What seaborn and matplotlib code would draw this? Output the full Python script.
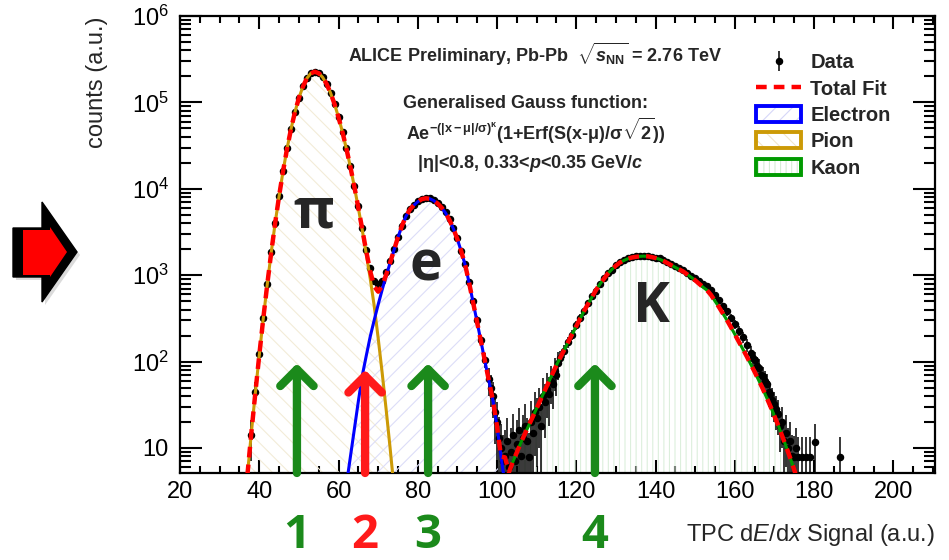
import numpy as np
import pandas as pd
import matplotlib
matplotlib.use("Agg")
import matplotlib.pyplot as plt
import matplotlib.ticker as mticker
import seaborn as sns
from matplotlib.patches import Patch, Polygon
from matplotlib.lines import Line2D
from matplotlib.legend_handler import HandlerTuple

# fit components (counts vs TPC dE/dx)
pion_x = list(range(37, 75))
pion_y = [4.84, 15.0, 43.2, 119, 313, 774, 1810, 3990, 8240, 16000, 29000, 49100,
          77300, 112700, 152000, 189700, 216800, 226500, 217800, 195000, 163000,
          128200, 95300, 67100, 45100, 28900, 17800, 10500, 5980, 3300, 1760, 910,
          441, 187, 74.6, 28.2, 10.1, 3.44]

electron_x = list(range(62, 103))
electron_y = [3.80, 7.94, 16.6, 34.7, 69.2, 117, 195, 302, 457, 676, 977, 1380,
              1950, 2750, 3720, 4790, 5750, 6460, 7080, 7590, 7760, 7670, 7300,
              6750, 6050, 5250, 4350, 3430, 2600, 1860, 1290, 794, 473, 282, 166,
              97.7, 58.2, 34.7, 17.8, 7.94, 3.80]

kaon_x = list(range(102, 177))
kaon_y = [3.98, 5.25, 6.92, 8.91, 11.5, 14.5, 18.2, 22.9, 28.8, 36.3, 45.7, 57.5,
          72.4, 91.2, 112, 138, 170, 209, 257, 316, 389, 468, 562, 676, 794, 912,
          1050, 1170, 1290, 1400, 1480, 1550, 1600, 1630, 1650, 1660, 1650, 1620,
          1580, 1530, 1460, 1380, 1300, 1230, 1160, 1100, 1020, 944, 871, 794, 724,
          668, 589, 501, 427, 359, 302, 251, 207, 170, 140, 115, 93.3, 75.9, 61.0,
          49.0, 38.5, 30.2, 23.4, 18.0, 13.6, 10.2, 7.59, 5.56, 3.98]

# measured points
data_x = [38, 39, 40, 41, 42, 43, 44, 45, 46, 47, 48, 49, 50, 51, 52, 53, 54, 55,
          56, 57, 58, 59, 60, 61, 62, 63, 64, 65, 66, 67, 68, 69, 70, 71, 72, 73,
          74, 75, 76, 77, 78, 79, 80, 81, 82, 83, 84, 85, 86, 87, 88, 89, 90, 91,
          92, 93, 94, 95, 96, 97,
          98, 98.5, 99, 99.5, 100, 100.5, 101, 101.5, 102, 102.5, 103, 103.5, 104,
          104.5, 105, 105.5, 106, 106.5, 107, 107.5, 108, 108.5, 109, 109.5, 110,
          110.5, 111, 111.5, 112, 112.5, 113, 113.5, 114, 114.5, 115, 115.5,
          116, 117, 118, 119, 120, 121, 122, 123, 124, 125, 126, 127, 128, 129,
          130, 131, 132, 133, 134, 135, 136, 137, 138, 139, 140, 141, 142, 143,
          144, 145, 146, 147, 148, 149, 150, 151, 152, 153, 154, 155, 156, 157,
          158, 159, 160, 161, 162, 163,
          164, 164.5, 165, 165.5, 166, 166.5, 167, 167.5, 168, 168.5, 169, 169.5,
          170, 170.5, 171, 171.5, 172, 172.5, 173, 173.5, 174, 174.5, 175, 175.5,
          176, 177, 178, 179, 180.3, 186.6]
data_y = [14, 45, 122, 320, 790, 1830, 4050, 8300, 16200, 29500, 49800, 78000,
          113000, 153000, 190000, 218000, 227000, 218000, 196000, 164000, 129000,
          96500, 68000, 46000, 29500, 18300, 10900, 6300, 3550, 1960, 1200, 860,
          790, 850, 1080, 1440, 2000, 2780, 3750, 4830, 5800, 6550, 7150, 7700,
          7900, 7800, 7400, 6850, 6150, 5350, 4430, 3500, 2680, 1920, 1340, 830,
          500, 300, 178, 104,
          62, 50, 40, 26, 20, 13, 10, 7, 8, 12, 6, 9, 14, 7, 11, 16, 8, 13, 18, 12,
          7.9, 20, 15, 26, 22, 30, 18, 40, 34, 48, 42, 60, 55, 78, 70, 95,
          110, 132, 168, 205, 262, 320, 380, 470, 570, 660, 800, 920, 1060, 1160,
          1300, 1420, 1490, 1560, 1610, 1650, 1660, 1680, 1670, 1640, 1600, 1560,
          1490, 1420, 1340, 1270, 1200, 1140, 1070, 990, 930, 860, 790, 740, 670,
          590, 520, 440, 380, 320, 270, 225, 190, 155,
          125, 110, 105, 90, 85, 70, 68, 60, 55, 45, 42, 36, 32, 28, 25, 18, 20, 12,
          15, 10, 12, 8, 7.9, 10,
          7.9, 7.9, 7.9, 7.9, 11.8, 7.9]
data_err = [7, 13, 22, 36, 56, 86, 127, 182, 255, 344, 446, 559, 672, 782, 872,
            934, 953, 934, 885, 810, 718, 621, 522, 429, 344, 271, 209, 159, 119,
            89, 69, 59, 56, 58, 66, 76, 89, 105, 122, 139, 152, 162, 169, 175,
            178, 177, 172, 166, 157, 146, 133, 118, 104, 88, 73, 58, 45, 35, 27, 20,
            22, 20, 18, 15, 14, 10, 9, 7, 8, 10, 6, 8, 11, 7, 10, 13, 7, 11, 14, 10,
            7, 15, 12, 18, 16, 20, 14, 24, 21, 26, 24, 28, 27, 32, 30, 34,
            21, 23, 26, 29, 32, 36, 39, 43, 48, 51, 57, 61, 65, 68, 72, 75, 77, 79,
            80, 81, 81, 82, 82, 81, 80, 79, 77, 75, 73, 71, 69, 68, 65, 63, 61, 59,
            56, 54, 52, 49, 46, 42, 39, 36, 33, 30, 28, 25,
            25, 24, 23, 22, 21, 19, 18, 17, 16, 15, 14, 13, 12, 12, 11, 9, 10, 8, 9,
            7, 8, 6, 6, 7,
            5.6, 5.6, 5.6, 5.6, 6.9, 5.6]

arrow_x = [49.5, 66.7, 82.6, 124.7]
arrow_top = [95, 80, 95, 95]
arrow_labels = ["1", "2", "3", "4"]
arrow_colors = ["#1b8a1b", "#ff1a1a", "#1b8a1b", "#1b8a1b"]

x_ticks = [20, 40, 60, 80, 100, 120, 140, 160, 180, 200]
y_ticks = [10, 1e2, 1e3, 1e4, 1e5, 1e6]
y_tick_labels = ["10", "$10^{2}$", "$10^{3}$", "$10^{4}$", "$10^{5}$", "$10^{6}$"]

sns.set_theme(style="ticks")
plt.rcParams["font.family"] = ["Liberation Sans", "DejaVu Sans"]
plt.rcParams.update({
    "mathtext.fontset": "custom",
    "mathtext.rm": "Liberation Sans",
    "mathtext.it": "Liberation Sans:italic",
    "mathtext.bf": "Liberation Sans:bold",
    "mathtext.bfit": "Liberation Sans:italic:bold",
    "mathtext.default": "regular",
    "hatch.linewidth": 0.8,
})

pion = pd.DataFrame({"x": pion_x, "y": pion_y})
electron = pd.DataFrame({"x": electron_x, "y": electron_y})
kaon = pd.DataFrame({"x": kaon_x, "y": kaon_y})
total = pd.concat([pion, electron, kaon]).groupby("x", as_index=False)["y"].sum()

fig = plt.figure(figsize=(9.49, 5.6), dpi=100)
fig.patch.set_facecolor("white")
ax = fig.add_axes([0.1897, 0.1554, 0.7955, 0.816])
ax.set_yscale("log")
ymin = 5.13
ax.set_xlim(20, 210.5)
ax.set_ylim(ymin, 1e6)

# hatched areas under each species
fills = [(pion, "#f3ecd8", "\\\\"), (electron, "#dcddf8", "//"), (kaon, "#dcefdc", "|||")]
for df, col, hat in fills:
    ax.fill_between(df["x"], 1, df["y"], facecolor="none", edgecolor=col,
                    hatch=hat, lw=0, zorder=1)

data_h = ax.errorbar(data_x, data_y, yerr=data_err, fmt="o", color="black",
                     ms=4.4, elinewidth=1.1, capsize=0, zorder=2)

sns.lineplot(data=pion, x="x", y="y", color="#cc9a06", lw=2.2, ax=ax,
             estimator=None, legend=False, zorder=3)
sns.lineplot(data=electron, x="x", y="y", color="#0000ff", lw=2.2, ax=ax,
             estimator=None, legend=False, zorder=3)
sns.lineplot(data=kaon, x="x", y="y", color="#009a00", lw=2.2, ax=ax,
             estimator=None, legend=False, zorder=3)
sns.lineplot(data=total, x="x", y="y", color="#ff0000", lw=3.2, ax=ax,
             estimator=None, legend=False, zorder=4)
ax.lines[-1].set_dashes((2.4, 1.6))

# axes cosmetics (ROOT-like)
for s in ax.spines.values():
    s.set_linewidth(1.6)
    s.set_color("black")
ax.set_xticks(x_ticks)
ax.xaxis.set_minor_locator(mticker.MultipleLocator(5))
ax.set_yticks(y_ticks, y_tick_labels)
ax.yaxis.set_minor_locator(mticker.LogLocator(base=10, subs=np.arange(2, 10)))
ax.yaxis.set_minor_formatter(mticker.NullFormatter())
ax.tick_params(axis="both", which="both", direction="in", top=True, right=True,
               width=1.5, color="black", labelsize=17, labelcolor="black")
ax.tick_params(axis="y", which="major", length=16, pad=8)
ax.tick_params(axis="y", which="minor", length=8)
ax.tick_params(axis="x", which="major", length=9.5, pad=6)
ax.tick_params(axis="x", which="minor", length=5)
ax.grid(False)

ax.set_ylabel("counts (a.u.)", fontsize=17, loc="top")
ax.yaxis.set_label_coords(-0.096, 1.0)
ax.set_xlabel(r"TPC d$\mathit{E}$/d$\mathit{x}$ Signal (a.u.)", fontsize=17, loc="right")
ax.xaxis.set_label_coords(1.0, -0.108)

# info text
ax.text(0.470, 0.899, r"ALICE Preliminary, Pb-Pb  $\sqrt{\mathbfit{s}_{\mathbf{NN}}}$ = 2.76 TeV",
        transform=ax.transAxes, ha="center", va="baseline", fontsize=13, fontweight="bold")
ax.text(0.458, 0.799, "Generalised Gauss function:", transform=ax.transAxes,
        ha="center", va="baseline", fontsize=13, fontweight="bold")
ax.text(0.471, 0.729,
        r"Ae$^{\mathbf{-(|x-}\mu\mathbf{|/}\sigma\mathbf{)}^{\kappa}}$(1+Erf(S(x-$\mu$)/$\sigma\sqrt{\mathbf{2}}$))",
        transform=ax.transAxes, ha="center", va="baseline", fontsize=13, fontweight="bold")
ax.text(0.464, 0.667, r"|$\eta$|<0.8, 0.33<$\mathbfit{p}$<0.35 GeV/$\mathbfit{c}$",
        transform=ax.transAxes, ha="center", va="baseline", fontsize=13, fontweight="bold")

# species labels
big = dict(fontsize=40, fontweight="bold", family=["Open Sans", "DejaVu Sans"],
           ha="center", va="baseline", zorder=6)
ax.text(53.8, 3520, "\u03c0", **big)
ax.text(82.1, 857, "e", **big)
ax.text(138.9, 287, "K", **big)

# arrows and numbers
for xa, top, lab, c in zip(arrow_x, arrow_top, arrow_labels, arrow_colors):
    ax.annotate("", xy=(xa, top), xytext=(xa, ymin),
                arrowprops=dict(arrowstyle="->,head_length=0.6,head_width=0.6",
                                lw=6, color=c, shrinkA=0, shrinkB=0,
                                mutation_scale=20, capstyle="round", joinstyle="round"),
                zorder=5, annotation_clip=False)
    ax.text(xa, -0.188, lab, transform=ax.get_xaxis_transform(), color=c, fontsize=34,
            fontweight="bold", family=["Open Sans", "DejaVu Sans"], ha="center",
            va="bottom", clip_on=False)

# legend
leg_handles = [
    data_h,
    Line2D([], [], color="#ff0000", lw=3.2, dashes=(2.4, 1.6)),
    (Patch(facecolor="white", edgecolor="#d6d7f8", hatch="//", lw=0),
     Patch(facecolor="none", edgecolor="#0000ff", lw=2.8)),
    (Patch(facecolor="white", edgecolor="#f0e6cc", hatch="\\\\", lw=0),
     Patch(facecolor="none", edgecolor="#cc9a06", lw=2.8)),
    (Patch(facecolor="white", edgecolor="#d6ecd6", hatch="|||", lw=0),
     Patch(facecolor="none", edgecolor="#009a00", lw=2.8)),
]
leg_labels = ["Data", "Total Fit", "Electron", "Pion", "Kaon"]
ax.legend(leg_handles, leg_labels, loc="upper left", bbox_to_anchor=(0.763, 0.918),
          bbox_transform=ax.transAxes, frameon=False, borderpad=0, borderaxespad=0,
          prop={"weight": "bold", "size": 14.5, "family": "Liberation Sans"},
          handlelength=2.24, handleheight=0.85, handletextpad=0.45, labelspacing=0.36,
          handler_map={tuple: HandlerTuple(ndivide=1, pad=0)})

# big red arrow on the left
def fpx(pts):
    return [(px / 949, 1 - py / 560) for px, py in pts]

outer = [(13, 228), (42, 228), (42, 202), (77, 252), (42, 302), (42, 277), (13, 277)]
inner = [(23, 230), (50, 230), (50, 227), (67, 252), (50, 277), (50, 275), (23, 275)]
shadow = [(x + 3, y + 3) for x, y in outer]
fig.add_artist(Polygon(fpx(shadow), closed=True, transform=fig.transFigure,
                       facecolor="#999999", edgecolor="none", alpha=0.35))
fig.add_artist(Polygon(fpx(outer), closed=True, transform=fig.transFigure,
                       facecolor="black", edgecolor="black", lw=1))
fig.add_artist(Polygon(fpx(inner), closed=True, transform=fig.transFigure,
                       facecolor="#ff0000", edgecolor="none"))

fig.savefig("out.png", dpi=100)
